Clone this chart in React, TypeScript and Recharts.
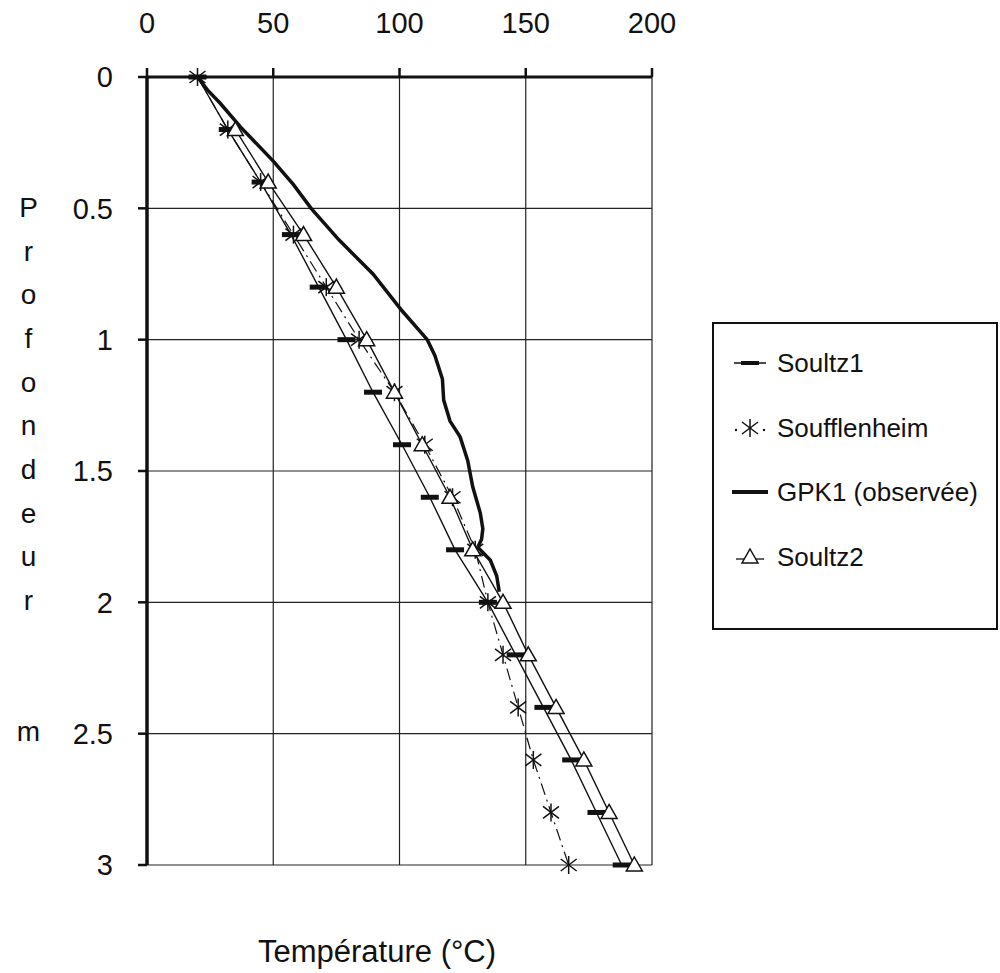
import { ScatterChart, Scatter, XAxis, YAxis, CartesianGrid, Legend } from "recharts";

const FONT = '"Liberation Sans", Arial, Helvetica, sans-serif';
const INK = "#111";

// depth (km) every 0.2, temperature (°C) for each model profile
const depths = [0, 0.2, 0.4, 0.6, 0.8, 1.0, 1.2, 1.4, 1.6, 1.8, 2.0, 2.2, 2.4, 2.6, 2.8, 3.0];
const soultz1 = [20, 32, 45, 57, 68, 79, 89.5, 101, 112, 122, 135, 146, 157, 168, 178, 188];
const soufflenheim = [20, 32, 45, 58, 71, 84, 98, 110, 121, 130, 135, 141, 147, 153, 160, 167];
// Soultz2 has no marker at the surface, starts at 0.2 km
const soultz2Depths = [0.2, 0.4, 0.6, 0.8, 1.0, 1.2, 1.4, 1.6, 1.8, 2.0, 2.2, 2.4, 2.6, 2.8, 3.0];
const soultz2 = [35, 48, 62, 75, 87, 98, 109, 120, 129, 141, 151, 162, 173, 183, 193];

// observed log in GPK1 (continuous curve)
const gpk1Depths = [0, 0.05, 0.1, 0.19, 0.32, 0.41, 0.5, 0.62, 0.75, 0.89, 1.0, 1.06, 1.15, 1.23, 1.31, 1.37, 1.46, 1.56, 1.66, 1.72, 1.76, 1.79, 1.81, 1.84, 1.9, 1.96];
const gpk1Temps = [20, 24, 29, 37, 50, 58, 65, 76, 89.5, 101, 111, 114, 117, 117.5, 120, 124, 127, 129, 132, 133, 132.5, 131, 133, 136, 138.5, 139.5];

const tempTicks = [0, 50, 100, 150, 200];
const depthTicks = [0, 0.5, 1, 1.5, 2, 2.5, 3];
const legendOrder = ["Soultz1", "Soufflenheim", "GPK1 (observée)", "Soultz2"];
const yTitle = ["P", "r", "o", "f", "o", "n", "d", "e", "u", "r", "", "", "m"];

const toPoints = (temps: number[], ds: number[]) => ds.map((d, i) => ({ t: temps[i], d }));

const BarMark = ({ cx, cy }: any) => <rect x={cx - 9} y={cy - 2.5} width={18} height={5} fill={INK} />;

const StarMark = ({ cx, cy }: any) => (
  <g stroke={INK} strokeWidth={1.5}>
    <line x1={cx} y1={cy - 9} x2={cx} y2={cy + 9} />
    <line x1={cx - 8} y1={cy - 6} x2={cx + 8} y2={cy + 6} />
    <line x1={cx - 8} y1={cy + 6} x2={cx + 8} y2={cy - 6} />
  </g>
);

const TriMark = ({ cx, cy }: any) => (
  <path d={`M${cx} ${cy - 8} L${cx + 8} ${cy + 6} L${cx - 8} ${cy + 6} Z`} fill="#fff" stroke={INK} strokeWidth={1.5} />
);

const NoMark = () => <g />;

function LegendIcon({ name }: { name: string }) {
  const c = 16;
  if (name === "Soultz1")
    return (
      <g>
        <line x1={2} y1={c} x2={34} y2={c} stroke={INK} strokeWidth={1.5} />
        <rect x={9} y={c - 2} width={18} height={4} fill={INK} />
      </g>
    );
  if (name === "Soufflenheim")
    return (
      <g>
        <circle cx={4} cy={c + 2} r={1.2} fill={INK} />
        <circle cx={32} cy={c + 2} r={1.2} fill={INK} />
        <StarMark cx={18} cy={c} />
      </g>
    );
  if (name === "GPK1 (observée)") return <line x1={0} y1={c} x2={36} y2={c} stroke={INK} strokeWidth={4} />;
  return (
    <g>
      <line x1={4} y1={c + 2} x2={32} y2={c + 2} stroke={INK} strokeWidth={1.3} />
      <TriMark cx={18} cy={c} />
    </g>
  );
}

function LegendBox({ payload }: any) {
  const items = [...(payload || [])].sort((a: any, b: any) => legendOrder.indexOf(a.value) - legendOrder.indexOf(b.value));
  return (
    <div
      style={{
        width: 286,
        height: 308,
        boxSizing: "border-box",
        border: `2px solid ${INK}`,
        background: "#fff",
        position: "relative",
        fontFamily: FONT,
      }}
    >
      {items.map((p: any, i: number) => (
        <div key={p.value} style={{ position: "absolute", left: 18, top: 39 + i * 64.7 - 16, height: 32, display: "flex", alignItems: "center" }}>
          <svg width={36} height={32}>
            <LegendIcon name={p.value} />
          </svg>
          <span style={{ marginLeft: 9, fontSize: 26, lineHeight: "32px", color: INK }}>{p.value}</span>
        </div>
      ))}
    </div>
  );
}

export default function App() {
  return (
    <div style={{ position: "absolute", left: 0, top: 0, width: 1000, height: 973, background: "#fff", fontFamily: FONT }}>
      <ScatterChart width={1000} height={973} margin={{ top: 17, right: 348, bottom: 108, left: 47 }}>
        <CartesianGrid stroke="#222" strokeWidth={1.2} />
        <XAxis
          type="number"
          dataKey="t"
          orientation="top"
          domain={[0, 200]}
          ticks={tempTicks}
          height={60}
          axisLine={{ stroke: INK, strokeWidth: 3 }}
          tickLine={{ stroke: INK, strokeWidth: 2.5 }}
          tickSize={9}
          tickMargin={35}
          tick={{ fill: INK, fontSize: 29, fontFamily: FONT }}
        />
        <YAxis
          type="number"
          dataKey="d"
          reversed
          domain={[0, 3]}
          ticks={depthTicks}
          width={100}
          axisLine={{ stroke: INK, strokeWidth: 3.5 }}
          tickLine={{ stroke: INK, strokeWidth: 2.5 }}
          tickSize={9}
          tickMargin={25}
          tick={{ fill: INK, fontSize: 29, fontFamily: FONT }}
        />
        <Legend
          layout="horizontal"
          align="center"
          verticalAlign="middle"
          content={<LegendBox />}
          wrapperStyle={{ left: 712, top: 322, width: 286, height: 308 }}
        />
        <Scatter
          name="Soultz1"
          data={toPoints(soultz1, depths)}
          fill={INK}
          line={{ stroke: INK, strokeWidth: 1.4 }}
          shape={BarMark}
          isAnimationActive={false}
        />
        <Scatter
          name="GPK1 (observée)"
          data={toPoints(gpk1Temps, gpk1Depths)}
          fill={INK}
          line={{ stroke: INK, strokeWidth: 3.5 }}
          shape={NoMark}
          isAnimationActive={false}
        />
        <Scatter
          name="Soufflenheim"
          data={toPoints(soufflenheim, depths)}
          fill={INK}
          line={{ stroke: INK, strokeWidth: 1.2, strokeDasharray: "12 5 2 5" }}
          shape={StarMark}
          isAnimationActive={false}
        />
        <Scatter
          name="Soultz2"
          data={toPoints(soultz2, soultz2Depths)}
          fill={INK}
          line={{ stroke: INK, strokeWidth: 1.4 }}
          shape={TriMark}
          isAnimationActive={false}
        />
      </ScatterChart>

      <div style={{ position: "absolute", left: 0, top: 186, width: 57 }}>
        {yTitle.map((ch, i) => (
          <div key={i} style={{ height: 43.67, lineHeight: "43.67px", textAlign: "center", fontSize: 28, color: INK }}>
            {ch}
          </div>
        ))}
      </div>

      <div style={{ position: "absolute", left: 258, top: 936, fontSize: 31, lineHeight: 1, color: INK, whiteSpace: "nowrap" }}>
        Température (°C)
      </div>
    </div>
  );
}
